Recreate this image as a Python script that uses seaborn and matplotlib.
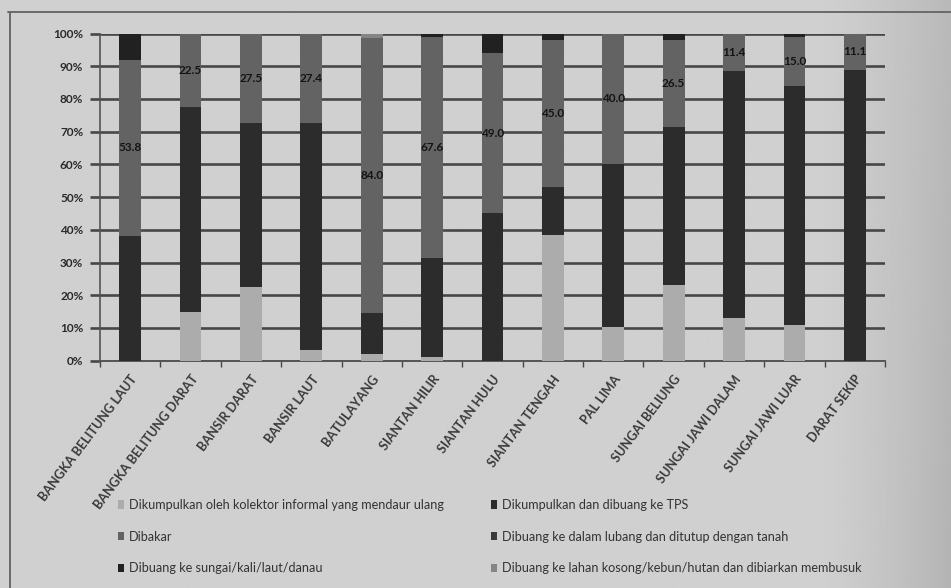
import numpy as np
import pandas as pd
import matplotlib
matplotlib.use("Agg")
import matplotlib.pyplot as plt
import seaborn as sns
from matplotlib.patches import Patch
from matplotlib.lines import Line2D

# Kelurahan (x categories)
kelurahan = [
    "BANGKA BELITUNG LAUT", "BANGKA BELITUNG DARAT", "BANSIR DARAT",
    "BANSIR LAUT", "BATULAYANG", "SIANTAN HILIR", "SIANTAN HULU",
    "SIANTAN TENGAH", "PAL LIMA", "SUNGAI BELIUNG", "SUNGAI JAWI DALAM",
    "SUNGAI JAWI LUAR", "DARAT SEKIP",
]

# Share of households (%) per waste handling method
kolektor_informal = [0.0, 15.0, 22.5, 3.2, 2.0, 1.0, 0.0, 38.5, 10.4, 23.0, 13.0, 11.0, 0.0]
dibuang_tps = [38.2, 62.5, 50.0, 69.4, 12.5, 30.4, 45.0, 14.5, 49.6, 48.5, 75.6, 73.0, 88.9]
dibakar = [53.8, 22.5, 27.5, 27.4, 84.0, 67.6, 49.0, 45.0, 40.0, 26.5, 11.4, 15.0, 11.1]
lubang_tanah = [0.0] * 13
sungai_laut = [8.0, 0.0, 0.0, 0.0, 0.0, 1.0, 6.0, 2.0, 0.0, 2.0, 0.0, 1.0, 0.0]
lahan_kosong = [0.0, 0.0, 0.0, 0.0, 1.5, 0.0, 0.0, 0.0, 0.0, 0.0, 0.0, 0.0, 0.0]

series_names = [
    "Dikumpulkan oleh kolektor informal yang mendaur ulang",
    "Dikumpulkan dan dibuang ke TPS",
    "Dibakar",
    "Dibuang ke dalam lubang dan ditutup dengan tanah",
    "Dibuang ke sungai/kali/laut/danau",
    "Dibuang ke lahan kosong/kebun/hutan dan dibiarkan membusuk",
]
series_colors = ["#acacac", "#2c2c2c", "#636363", "#3a3a3a", "#212121", "#858585"]

y_ticks = [0, 10, 20, 30, 40, 50, 60, 70, 80, 90, 100]
y_tick_labels = [f"{t}%" for t in y_ticks]

df = pd.DataFrame(
    dict(zip(series_names, [kolektor_informal, dibuang_tps, dibakar,
                            lubang_tanah, sungai_laut, lahan_kosong])),
    index=kelurahan,
)
cum = df.cumsum(axis=1)

sns.set_theme(style="white")
plt.rcParams["font.family"] = ["Lato", "DejaVu Sans"]

W, H = 951, 588
fig = plt.figure(figsize=(W / 100, H / 100), dpi=100)

# paper-like backdrop, darker toward the right edge
bg = fig.add_axes([0, 0, 1, 1], zorder=-10)
xs = np.linspace(0, 1, 500)
ys = np.linspace(0, 1, 300)
gx = np.clip((xs - 0.86) / 0.14, 0, 1) ** 1.3
gy = np.clip((ys - 0.0), 0, 1)
shade = 0.815 - 0.09 * gx[None, :] - 0.02 * (1 - gy[:, None]) * gx[None, :]
bg.imshow(shade, cmap="gray", vmin=0, vmax=1, aspect="auto",
          extent=[0, 1, 0, 1], origin="lower")
bg.set_axis_off()

# chart frame
fig.add_artist(Line2D([8 / W, 1], [1 - 12 / H, 1 - 12 / H], color="#6a6a6a",
                      lw=1.4, transform=fig.transFigure))
fig.add_artist(Line2D([10 / W, 10 / W], [0, 1 - 12 / H], color="#6a6a6a",
                      lw=1.4, transform=fig.transFigure))

ax = fig.add_axes([100 / W, 1 - 360.7 / H, 785 / W, 327.2 / H])
ax.patch.set_alpha(0)

grid_c = "#474747"
ax.set_axisbelow(True)
ax.yaxis.grid(True, color=grid_c, lw=1.9)

# stacked bars: draw cumulative totals from the top layer down
cols = list(df.columns)
for i in range(len(cols) - 1, -1, -1):
    sns.barplot(x=kelurahan, y=cum[cols[i]].values, color=series_colors[i],
                saturation=1, width=0.36, ax=ax, linewidth=0, zorder=3)

# value labels on the "Dibakar" layer
xpos = ax.get_xticks()
base = cum[cols[1]].values
for x, b, v in zip(xpos, base, dibakar):
    ax.text(x, b + v / 2, f"{v:.1f}", ha="center", va="center",
            fontsize=8.5, color="#141414", fontweight="bold", zorder=5)

ax.set_ylim(0, 100)
ax.set_xlim(-0.5, len(kelurahan) - 0.5)
ax.set_yticks(y_ticks)
ax.set_yticklabels(y_tick_labels)
ax.set_ylabel("")
ax.set_xlabel("")

ax.set_xticks(np.arange(-0.5, len(kelurahan), 1.0), minor=True)
ax.tick_params(axis="x", which="minor", length=4, width=1, color=grid_c,
               direction="out", bottom=True)
ax.tick_params(axis="x", which="major", length=0, pad=9)
ax.tick_params(axis="y", which="major", length=7, width=1.9, color=grid_c,
               direction="out", left=True, pad=5, labelsize=8.5,
               labelcolor="#2a2a2a")
for lab in ax.get_yticklabels():
    lab.set_fontweight("bold")
ax.set_xticks(xpos)
ax.set_xticklabels(kelurahan, rotation=53, ha="right", rotation_mode="anchor",
                   fontsize=9.1, fontweight="bold", color="#3a3a3a")

for s in ["top", "right"]:
    ax.spines[s].set_visible(False)
ax.spines["left"].set_color("#555555")
ax.spines["left"].set_linewidth(1.2)
ax.spines["bottom"].set_color("#555555")
ax.spines["bottom"].set_linewidth(1.4)

# legend in two columns, entries read row by row
handles = [Patch(facecolor=c, edgecolor="none") for c in series_colors]
leg_kw = dict(frameon=False, fontsize=9.1, handlelength=0.5,
              handleheight=0.65, handletextpad=0.35, labelspacing=1.55,
              borderaxespad=0, borderpad=0, labelcolor="#333333")
fig.legend([handles[0], handles[2], handles[4]],
           [series_names[0], series_names[2], series_names[4]],
           loc="upper left", bbox_to_anchor=(118 / W, 1 - 499 / H), **leg_kw)
fig.legend([handles[1], handles[3], handles[5]],
           [series_names[1], series_names[3], series_names[5]],
           loc="upper left", bbox_to_anchor=(491 / W, 1 - 499 / H), **leg_kw)

fig.savefig("out.png", dpi=100)
